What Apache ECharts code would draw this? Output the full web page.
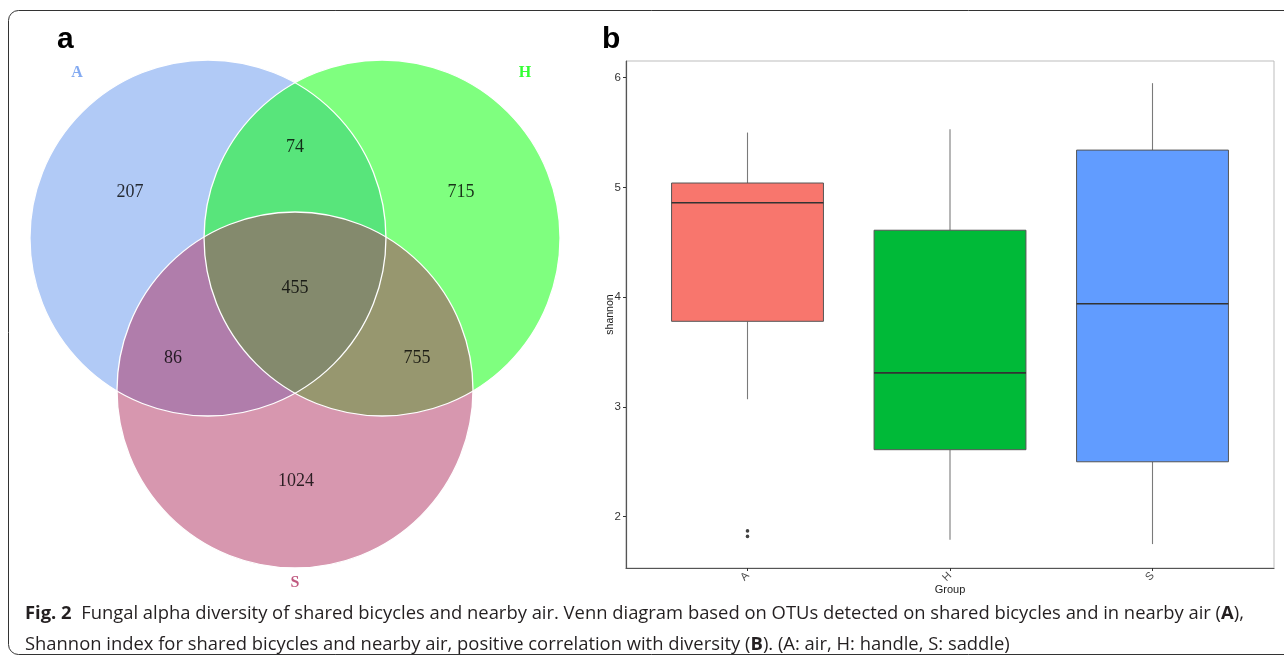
<!DOCTYPE html>
<html><head><meta charset="utf-8">
<script src="https://cdn.jsdelivr.net/npm/echarts@6/dist/echarts.min.js"></script>
<style>html,body{margin:0;padding:0;background:#fff}#c{width:1284px;height:661px}</style>
</head><body><div id="c"></div>
<script>
// ---- Venn data (region counts) ----
const vennSets = ['A', 'H', 'S'];
const vennSetColors = ['#6495ED', '#00FF00', '#B03060'];
const vennRegions = ['A only', 'A∩H', 'H only', 'A∩H∩S', 'A∩S', 'H∩S', 'S only'];
const vennCounts = [207, 74, 715, 455, 86, 755, 1024];

// ---- Box plot data (Shannon index) ----
const groups = ['A', 'H', 'S'];
const lowerWhisker = [3.07, 1.79, 1.75];
const q1 = [3.78, 2.61, 2.50];
const median = [4.86, 3.31, 3.94];
const q3 = [5.04, 4.61, 5.34];
const upperWhisker = [5.50, 5.53, 5.95];
const outlierGroup = ['A', 'A'];
const outlierValue = [1.87, 1.82];
const yTicks = [2, 3, 4, 5, 6];
const boxColors = ['#F8766D', '#00BA38', '#619CFF'];

// ---- Venn layout (unit geometry) ----
const circleLayout = [[-0.489, 0], [0.489, 0], [0, -0.854]];
const circleR = 1;
const regionPos = [[-0.927, 0.258], [0, 0.511], [0.933, 0.258], [0, -0.281], [-0.685, -0.674], [0.685, -0.674], [0.006, -1.365]];
const setLabelPos = [[-1.225, 0.927], [1.292, 0.927], [0, -1.938]];

function rgba(hex, a) {
  const n = parseInt(hex.slice(1), 16);
  return 'rgba(' + (n >> 16) + ',' + ((n >> 8) & 255) + ',' + (n & 255) + ',' + a + ')';
}

const chart = echarts.init(document.getElementById('c'), null, {renderer: 'canvas'});

const circleData = circleLayout.map((p, i) => [p[0], p[1], circleR, i]);
const boxData = groups.map((g, i) => [i + 1, lowerWhisker[i], q1[i], median[i], q3[i], upperWhisker[i], i]);

const option = {
  backgroundColor: '#fff',
  animation: false,
  title: [
    {text: 'a', left: 52, top: 20, textStyle: {fontFamily: 'Liberation Sans, Arial', fontWeight: 'bold', fontSize: 30, color: '#000'}},
    {text: 'b', left: 597, top: 20, textStyle: {fontFamily: 'Liberation Sans, Arial', fontWeight: 'bold', fontSize: 30, color: '#000'}},
    {
      text: '{b|Fig. 2}  Fungal alpha diversity of shared bicycles and nearby air. Venn diagram based on OTUs detected on shared bicycles and in nearby air ({b|A}),\nShannon index for shared bicycles and nearby air, positive correlation with diversity ({b|B}). (A: air, H: handle, S: saddle)',
      left: 20, top: 593,
      textStyle: {
        fontFamily: 'Open Sans', fontSize: 18.4, color: '#231f20', lineHeight: 31, fontWeight: 'normal',
        rich: {b: {fontFamily: 'Open Sans', fontSize: 18.4, fontWeight: 'bold', color: '#231f20', lineHeight: 31}}
      }
    }
  ],
  graphic: [{
    type: 'rect', silent: true, z: -10,
    shape: {x: 8.5, y: 10.5, width: 1300, height: 644, r: 10},
    style: {fill: 'none', stroke: '#333', lineWidth: 1}
  }],
  grid: [
    {left: 28, top: 24.4, width: 534, height: 569.6, show: false},
    {left: 626, top: 61, width: 648, height: 507, show: true, borderColor: '#bdbdbd', borderWidth: 1, backgroundColor: '#fff'}
  ],
  xAxis: [
    {gridIndex: 0, type: 'value', min: -1.5, max: 1.5, show: false},
    {
      gridIndex: 1, type: 'value', min: 0.4, max: 3.6,
      splitLine: {show: false},
      axisLine: {show: true, onZero: false, lineStyle: {color: '#555', width: 1.2}},
      axisTick: {show: true, length: 3, customValues: [1, 2, 3], lineStyle: {color: '#333'}},
      axisLabel: {show: true, customValues: [1, 2, 3], rotate: 45, margin: 6, fontSize: 11, color: '#4d4d4d', fontFamily: 'Liberation Sans, Arial',
        formatter: v => groups[Math.round(v) - 1] || ''},
      name: 'Group', nameLocation: 'middle', nameGap: 16, nameMoveOverlap: false,
      nameTextStyle: {fontSize: 11, color: '#222', fontFamily: 'Liberation Sans, Arial'}
    }
  ],
  yAxis: [
    {gridIndex: 0, type: 'value', min: -2, max: 1.2, show: false},
    {
      gridIndex: 1, type: 'value', min: 1.532, max: 6.152,
      splitLine: {show: false},
      axisLine: {show: true, onZero: false, lineStyle: {color: '#555', width: 1.2}},
      axisTick: {show: true, length: 3, customValues: yTicks, lineStyle: {color: '#333'}},
      axisLabel: {show: true, customValues: yTicks, margin: 5, fontSize: 11.5, color: '#333', fontFamily: 'Liberation Sans, Arial'},
      name: 'shannon', nameLocation: 'middle', nameGap: 10, nameRotate: 90, nameMoveOverlap: false,
      nameTextStyle: {fontSize: 10.5, color: '#222', fontFamily: 'Liberation Sans, Arial'}
    }
  ],
  series: [
    {
      type: 'custom', xAxisIndex: 0, yAxisIndex: 0, silent: true, z: 1,
      data: circleData,
      renderItem: function (params, api) {
        const c = api.coord([api.value(0), api.value(1)]);
        const s = api.size([api.value(2), api.value(2)]);
        const i = api.value(3);
        return {type: 'circle', shape: {cx: c[0], cy: c[1], r: s[0]}, style: {fill: rgba(vennSetColors[i], 0.5), stroke: null}};
      }
    },
    {
      type: 'custom', xAxisIndex: 0, yAxisIndex: 0, silent: true, z: 2,
      data: circleData,
      renderItem: function (params, api) {
        const c = api.coord([api.value(0), api.value(1)]);
        const s = api.size([api.value(2), api.value(2)]);
        return {type: 'circle', shape: {cx: c[0], cy: c[1], r: s[0]}, style: {fill: 'none', stroke: '#fff', lineWidth: 1.3}};
      }
    },
    {
      type: 'scatter', xAxisIndex: 0, yAxisIndex: 0, silent: true, z: 3, symbolSize: 0,
      data: regionPos.map((p, i) => ({name: vennRegions[i], value: [p[0], p[1], vennCounts[i]]})),
      label: {show: true, position: 'inside', formatter: p => String(p.value[2]), fontFamily: 'Liberation Serif, Times New Roman', fontSize: 18, color: '#000'}
    },
    {
      type: 'scatter', xAxisIndex: 0, yAxisIndex: 0, silent: true, z: 3, symbolSize: 0,
      data: setLabelPos.map((p, i) => ({value: [p[0], p[1]], name: vennSets[i], label: {color: vennSetColors[i]}})),
      label: {show: true, position: 'inside', formatter: p => p.name, fontFamily: 'Liberation Serif, Times New Roman', fontWeight: 'bold', fontSize: 16}
    },
    {
      type: 'custom', xAxisIndex: 1, yAxisIndex: 1, silent: true, z: 3,
      data: boxData,
      renderItem: function (params, api) {
        const x = api.value(0);
        const w = api.size([0.75, 0])[0];
        const pLo = api.coord([x, api.value(1)]);
        const pQ1 = api.coord([x, api.value(2)]);
        const pMed = api.coord([x, api.value(3)]);
        const pQ3 = api.coord([x, api.value(4)]);
        const pHi = api.coord([x, api.value(5)]);
        const cx = pMed[0];
        const col = boxColors[api.value(6)];
        return {
          type: 'group',
          children: [
            {type: 'line', shape: {x1: cx, y1: pHi[1], x2: cx, y2: pQ3[1]}, style: {stroke: '#7a7a7a', lineWidth: 1.1}},
            {type: 'line', shape: {x1: cx, y1: pQ1[1], x2: cx, y2: pLo[1]}, style: {stroke: '#7a7a7a', lineWidth: 1.1}},
            {type: 'rect', shape: {x: cx - w / 2, y: pQ3[1], width: w, height: pQ1[1] - pQ3[1]}, style: {fill: col, stroke: '#555', lineWidth: 1}},
            {type: 'line', shape: {x1: cx - w / 2, y1: pMed[1], x2: cx + w / 2, y2: pMed[1]}, style: {stroke: '#333', lineWidth: 1.6}}
          ]
        };
      }
    },
    {
      type: 'scatter', xAxisIndex: 1, yAxisIndex: 1, silent: true, z: 4,
      symbol: 'circle', symbolSize: 3.6,
      itemStyle: {color: '#111'},
      data: outlierValue.map((v, i) => [groups.indexOf(outlierGroup[i]) + 1, v])
    }
  ]
};
chart.setOption(option);
</script>
</body></html>
